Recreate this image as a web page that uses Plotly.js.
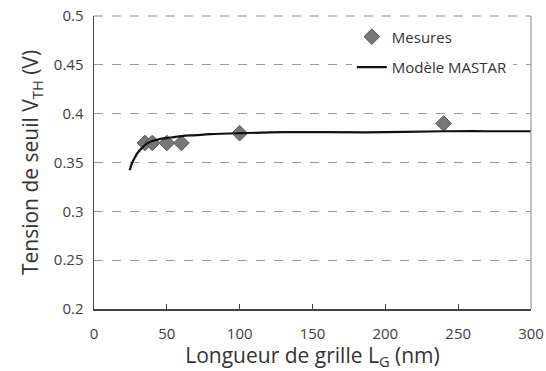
<!DOCTYPE html>
<html>
<head>
<meta charset="utf-8">
<script src="https://cdn.plot.ly/plotly-3.0.1.min.js"></script>
<style>html,body{margin:0;padding:0;background:#fff;}#chart{width:546px;height:371px;}</style>
</head>
<body>
<div id="chart"></div>
<script>
// Measured points
const measureLengths = [35, 40, 50, 60, 100, 240];
const measureVth = [0.370, 0.370, 0.370, 0.370, 0.380, 0.390];
// MASTAR model curve
const modelLengths = [24.5, 26, 28, 30, 33, 36, 40, 45, 50, 60, 70, 80, 100, 130, 160, 200, 240, 270, 300];
const modelVth = [0.342, 0.349, 0.355, 0.360, 0.365, 0.369, 0.372, 0.374, 0.375, 0.377, 0.378, 0.379, 0.380, 0.381, 0.381, 0.381, 0.382, 0.382, 0.382];
const xTicks = [0, 50, 100, 150, 200, 250, 300];
const yTicks = [0.2, 0.25, 0.3, 0.35, 0.4, 0.45, 0.5];
const yTickText = ['0.2', '0.25', '0.3', '0.35', '0.4', '0.45', '0.5'];

const traces = [
  {
    x: measureLengths, y: measureVth, type: 'scatter', mode: 'markers', name: 'Mesures', legendgroup: 'a',
    marker: {symbol: 'diamond', size: 12, color: '#777777', line: {color: '#5a5a5a', width: 1}}
  },
  {
    x: modelLengths, y: modelVth, type: 'scatter', mode: 'lines', name: 'Modèle MASTAR', legendgroup: 'b',
    line: {color: '#111111', width: 2.2, shape: 'spline'}
  }
];

const layout = {
  width: 546, height: 371,
  margin: {l: 94, r: 15, t: 16, b: 62},
  paper_bgcolor: '#ffffff', plot_bgcolor: '#ffffff',
  font: {family: 'Open Sans, sans-serif', color: '#404040'},
  showlegend: true,
  legend: {
    x: 0.59, y: 0.985, xanchor: 'left', yanchor: 'top',
    bgcolor: 'rgba(255,255,255,1)', font: {size: 15, color: '#333'},
    itemwidth: 30, traceorder: 'grouped', tracegroupgap: 8
  },
  xaxis: {
    range: [0, 300], tickvals: xTicks, ticktext: xTicks.map(String),
    showgrid: false, zeroline: false,
    showline: true, linecolor: '#444', linewidth: 1.5,
    ticks: 'inside', ticklen: 5, tickcolor: '#444',
    ticklabelstandoff: 10,
    tickfont: {size: 15, color: '#404040'},
    title: {text: 'Longueur de grille L<sub>G</sub> (nm)', font: {size: 21, color: '#333'}, standoff: 2}
  },
  yaxis: {
    range: [0.2, 0.5], tickvals: yTicks, ticktext: yTickText,
    showgrid: true, gridcolor: '#9a9a9a', griddash: 'dash', gridwidth: 1,
    zeroline: false,
    showline: true, linecolor: '#444', linewidth: 1.5,
    ticks: '', tickfont: {size: 15, color: '#404040'},
    ticklabelstandoff: 6,
    title: {text: 'Tension de seuil V<sub>TH</sub> (V)', font: {size: 21, color: '#333'}, standoff: 9}
  },
  shapes: [
    {type: 'line', xref: 'paper', yref: 'paper', x0: 1, x1: 1, y0: 0, y1: 1, line: {color: '#9a9a9a', width: 1.2}},
    {type: 'line', xref: 'paper', yref: 'paper', x0: 0, x1: 1, y0: 1, y1: 1, line: {color: '#8a8a8a', width: 1.2, dash: 'dash'}}
  ]
};

Plotly.newPlot('chart', traces, layout, {displayModeBar: false, staticPlot: true});
</script>
</body>
</html>
